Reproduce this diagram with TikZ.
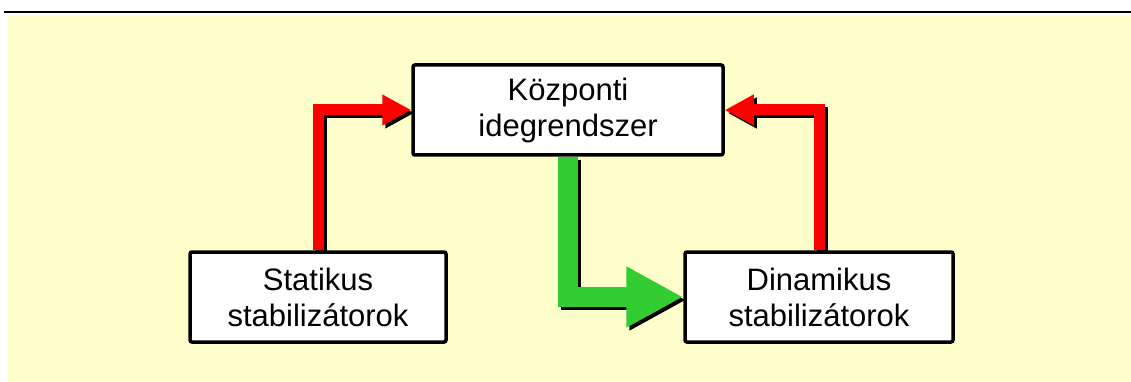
\documentclass[tikz,border=0pt]{standalone}
\usepackage{fontspec}
\setmainfont{Liberation Sans}
\usetikzlibrary{arrows.meta,backgrounds}
\definecolor{bgyellow}{HTML}{FFFFCC}
\definecolor{arrred}{HTML}{FF0000}
\definecolor{arrgreen}{HTML}{33CC33}
\tikzset{
  box/.style={draw=black, fill=white, line width=3.5pt, rounded corners=2pt,
    minimum height=90pt, inner sep=0pt, align=center,
    font=\fontsize{31}{36}\selectfont},
  redarrow/.style={draw=arrred, line width=11pt, line join=miter,
    -{Triangle[length=29pt,width=29pt]}},
  greenarrow/.style={draw=arrgreen, line width=20pt, line join=miter,
    -{Triangle[length=57pt,width=57pt]}},
  shadowed/.style={draw=black, transform canvas={shift={(3pt,-3pt)}}},
}
\begin{document}
\begin{tikzpicture}[x=1pt,y=-1pt]
\useasboundingbox (0,0) rectangle (1131,382);
\node[box, minimum width=310pt] (koz) at (568,110) {Központi\\idegrendszer};
\node[box, minimum width=256pt] (stat) at (318,297) {Statikus\\stabilizátorok};
\node[box, minimum width=268pt] (din) at (819,297) {Dinamikus\\stabilizátorok};
\begin{scope}[on background layer]
  \fill[white] (0,0) rectangle (1131,382);
  \fill[black] (4,11) rectangle (1131,13.5);
  \fill[bgyellow] (8,15) rectangle (1131,382);
  % shadows
  \draw[redarrow, shadowed] (stat.north) |- (koz.west);
  \draw[redarrow, shadowed] (din.north) |- (koz.east);
  \draw[greenarrow, shadowed] (koz.south) |- (din.west);
  % arrows
  \draw[redarrow] (stat.north) |- (koz.west);
  \draw[redarrow] (din.north) |- (koz.east);
  \draw[greenarrow] (koz.south) |- (din.west);
\end{scope}
\end{tikzpicture}
\end{document}
